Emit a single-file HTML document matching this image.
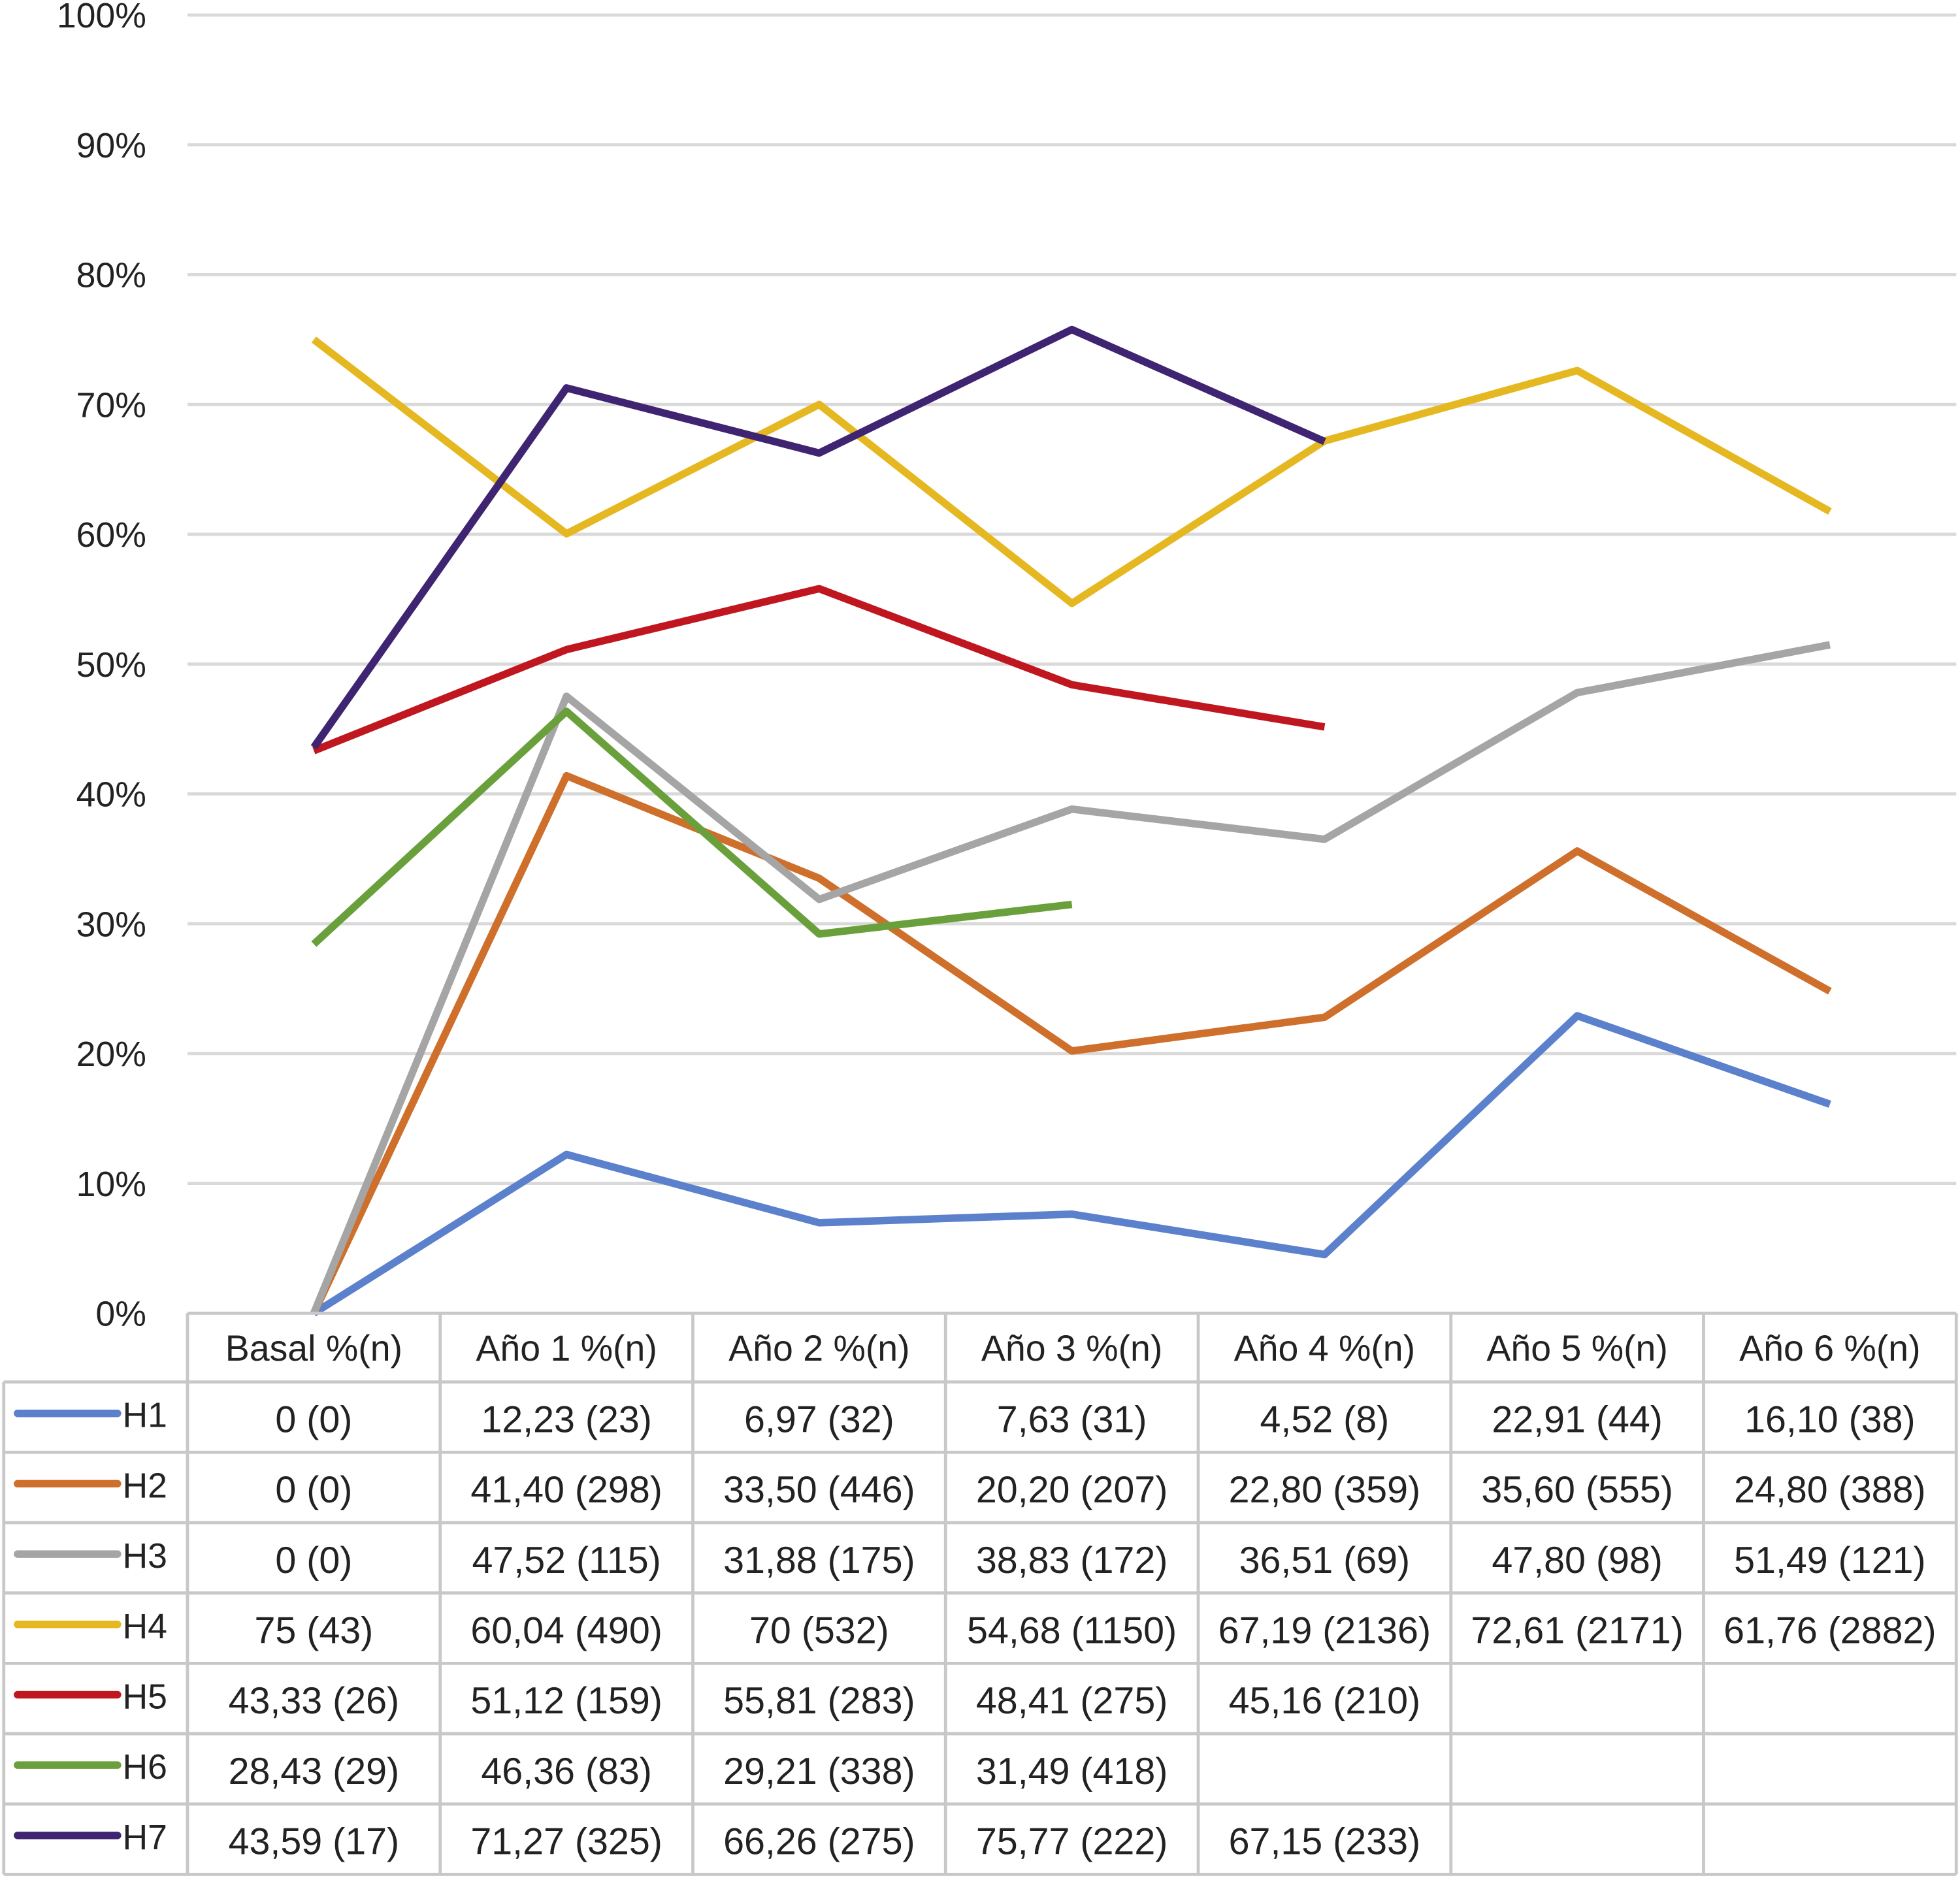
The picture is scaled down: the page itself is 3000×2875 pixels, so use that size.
<!DOCTYPE html>
<html><head><meta charset="utf-8"><style>
html,body{margin:0;padding:0;background:#fff;}
svg{display:block;}
text{font-family:"Liberation Sans",sans-serif;fill:#222;}
</style></head><body>
<svg id="chart" width="3000" height="2875" viewBox="0 0 1568 1503" preserveAspectRatio="none" xmlns="http://www.w3.org/2000/svg">
<g id="grid"></g>
<g id="yaxis"></g>
<g id="lines"></g>
<g id="table"></g>
</svg>
<script>
const categories = ["Basal %(n)","Año 1 %(n)","Año 2 %(n)","Año 3 %(n)","Año 4 %(n)","Año 5 %(n)","Año 6 %(n)"];
const seriesNames = ["H1","H2","H3","H4","H5","H6","H7"];
const seriesColors = ["#5b80cc","#cf6f2c","#a5a5a5","#e5b821","#c0161f","#69a03c","#3f2472"];
const h1 = [0,12.23,6.97,7.63,4.52,22.91,16.10];
const h2 = [0,41.40,33.50,20.20,22.80,35.60,24.80];
const h3 = [0,47.52,31.88,38.83,36.51,47.80,51.49];
const h4 = [75,60.04,70,54.68,67.19,72.61,61.76];
const h5 = [43.33,51.12,55.81,48.41,45.16,null,null];
const h6 = [28.43,46.36,29.21,31.49,null,null,null];
const h7 = [43.59,71.27,66.26,75.77,67.15,null,null];
const h1Labels = ["0 (0)","12,23 (23)","6,97 (32)","7,63 (31)","4,52 (8)","22,91 (44)","16,10 (38)"];
const h2Labels = ["0 (0)","41,40 (298)","33,50 (446)","20,20 (207)","22,80 (359)","35,60 (555)","24,80 (388)"];
const h3Labels = ["0 (0)","47,52 (115)","31,88 (175)","38,83 (172)","36,51 (69)","47,80 (98)","51,49 (121)"];
const h4Labels = ["75 (43)","60,04 (490)","70 (532)","54,68 (1150)","67,19 (2136)","72,61 (2171)","61,76 (2882)"];
const h5Labels = ["43,33 (26)","51,12 (159)","55,81 (283)","48,41 (275)","45,16 (210)","",""];
const h6Labels = ["28,43 (29)","46,36 (83)","29,21 (338)","31,49 (418)","","",""];
const h7Labels = ["43,59 (17)","71,27 (325)","66,26 (275)","75,77 (222)","67,15 (233)","",""];
const yTicks = [0,10,20,30,40,50,60,70,80,90,100];

const allSeries=[h1,h2,h3,h4,h5,h6,h7];
const allLabels=[h1Labels,h2Labels,h3Labels,h4Labels,h5Labels,h6Labels,h7Labels];
const NS="http://www.w3.org/2000/svg";
const x0=150,x1=1565,y0=1051,yTop=12;
const colW=(x1-x0)/categories.length;
function xScale(i){return x0+colW*(i+0.5);}
function yScale(v){return y0-(v/100)*(y0-yTop);}
function mk(tag,attrs,parent){const e=document.createElementNS(NS,tag);for(const k in attrs)e.setAttribute(k,attrs[k]);parent.appendChild(e);return e;}
const grid=document.getElementById('grid'),yaxis=document.getElementById('yaxis'),lines=document.getElementById('lines'),table=document.getElementById('table');
yTicks.forEach(t=>{
  if(t>0){const l=mk('line',{x1:x0,x2:x1,y1:yScale(t),y2:yScale(t),stroke:'#d9d9d9','stroke-width':2.5},grid);
  
  }
  const tx=mk('text',{x:117,y:yScale(t)+10,'text-anchor':'end','font-size':28},yaxis);
  tx.textContent=t+'%';
  
  
});
allSeries.forEach((s,si)=>{
  let pts=[];
  s.forEach((v,i)=>{if(v!==null)pts.push(xScale(i)+','+yScale(v));});
  const p=mk('polyline',{points:pts.join(' '),fill:'none',stroke:seriesColors[si],'stroke-width':6,'stroke-linejoin':'round'},lines);
  
  
});
// table
const rowTop=1106,rowH=56.3,gc='#c8c8c8';
const lastY=rowTop+rowH*7;
mk('line',{x1:x0,x2:x1,y1:y0,y2:y0,stroke:gc,'stroke-width':2.5},table);
for(let r=0;r<=7;r++){mk('line',{x1:3,x2:x1,y1:rowTop+rowH*r,y2:rowTop+rowH*r,stroke:gc,'stroke-width':2.5},table);}
mk('line',{x1:3,x2:3,y1:rowTop,y2:lastY,stroke:gc,'stroke-width':2.5},table);
for(let c=0;c<=categories.length;c++){const x=x0+colW*c;mk('line',{x1:x,x2:x,y1:y0,y2:lastY,stroke:gc,'stroke-width':2.5},table);}
categories.forEach((c,i)=>{
  const t=mk('text',{x:xScale(i),y:y0+38,'text-anchor':'middle','font-size':29},table);
  t.textContent=c;
  
  
});
seriesNames.forEach((n,si)=>{
  const cy=rowTop+rowH*si+rowH/2;
  const l=mk('line',{x1:14,x2:94,y1:cy-3,y2:cy-3,stroke:seriesColors[si],'stroke-width':6,'stroke-linecap':'round'},table);
  
  
  const t=mk('text',{x:98,y:cy+8,'font-size':28},table);
  t.textContent=n;
  
  
  allLabels[si].forEach((lab,i)=>{
    if(!lab)return;
    const v=mk('text',{x:xScale(i),y:cy+12,'text-anchor':'middle','font-size':30},table);
    v.textContent=lab;
    
    
  });
});
</script>
</body></html>
